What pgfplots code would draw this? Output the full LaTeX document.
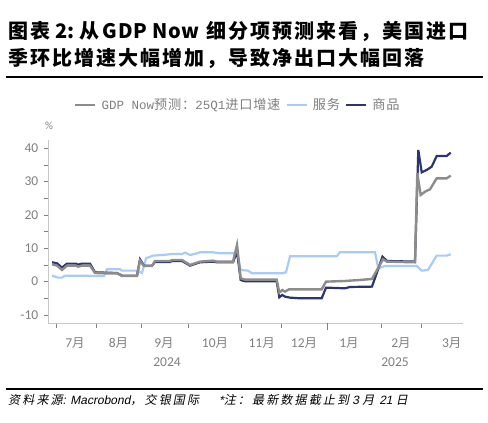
\documentclass[border=0pt]{standalone}
\usepackage{fontspec}
\usepackage{pgfplots}
\usepackage{pgfplotstable}
\pgfplotsset{compat=1.18}
\setmainfont{Carlito}
\newfontfamily\cjk{Noto Sans CJK SC}
\newfontfamily\cjkleg{Noto Sans CJK SC}[LetterSpace=6]
\newfontfamily\cjktitle{Noto Sans CJK SC}[LetterSpace=10]
\newfontfamily\cjktitlelat{Noto Sans CJK SC}[LetterSpace=3]
\newfontfamily\cjkit{Noto Sans CJK SC}[FakeSlant=0.2, LetterSpace=18]
\newfontfamily\lmono{Liberation Mono}
\newfontfamily\srcit{Liberation Sans}[FakeSlant=0.2]
\definecolor{navyc}{HTML}{2E3470}
\definecolor{grayc}{HTML}{8C8C8C}
\definecolor{bluec}{HTML}{A9CBF8}
\definecolor{tickc}{HTML}{7F7F7F}
\definecolor{axc}{HTML}{C8C8C8}

% x = horizontal position on the chart (month boundaries: Jul 56, Aug 96, Sep 141.7, Oct 188.3, Nov 241.7, Dec 281.7, Jan 327.7, Feb 381.7, Mar 421.7)
\pgfplotstableread{
x y
52 5.2
57 4.8
62 3.5
67 4.8
76 4.8
78 4.5
82 4.8
90 4.8
95 2.6
105 2.5
117 2.5
122 1.7
137 1.7
140 6.3
144 4.7
152 4.7
155 6.2
170 6.2
172 6.5
182 6.5
190 5.0
200 6.0
213 6.3
217 6.0
233 6.0
237 11.0
240.7 1.0
245 0.6
276.7 0.6
279.3 -3.3
282.3 -2.5
285 -3.0
289 -2.3
321.7 -2.3
326 0.0
345 0.2
360 0.5
372 0.8
383 6.7
387 6.0
415 5.8
417.3 32.5
420.7 26.0
425 27.0
430 27.7
436.7 31.0
446.7 31.0
450.7 31.8
}\totaldata

\pgfplotstableread{
x y
52 5.8
57 5.5
62 4.2
67 5.4
76 5.4
78 5.1
82 5.4
90 5.4
95 2.8
105 2.7
117 2.6
122 1.8
137 1.8
140 6.7
144 4.8
152 4.8
155 5.9
170 5.9
172 6.2
182 6.2
190 4.8
200 5.8
213 6.0
217 5.8
233 5.8
237 9.0
240.7 0.5
245 0.1
276.7 0.1
279.3 -4.7
282.3 -4.0
285 -4.5
290 -4.8
300 -5.0
321.7 -5.0
326 -1.8
345 -2.0
350 -1.6
372 -1.5
382.5 7.5
387 6.2
415 6.0
418.3 39.5
421.7 32.8
426.7 33.5
431.7 34.5
436.7 37.7
446.7 37.7
450.7 38.7
}\goodsdata

\pgfplotstableread{
x y
52 1.8
58 1.2
62 1.2
65 1.8
104 1.7
107 3.7
120 3.7
122 3.3
137 3.3
142 2.6
146 7.0
153 7.8
163 8.0
172 8.3
182 8.3
185 8.7
190 8.0
197 8.5
200 8.8
213 8.8
220 8.5
233 8.5
237 8.7
240.7 3.5
248 3.3
252 2.5
282 2.5
286 2.8
290 7.6
336.7 7.6
340 8.8
375 8.8
378.3 4.0
385 4.7
416.7 4.7
421.7 3.3
428 3.5
436.7 7.8
446.7 7.8
450.7 8.2
}\servdata

\begin{document}
\begin{tikzpicture}[x=1pt,y=1pt]
\useasboundingbox (0,0) rectangle (488,423);
% title
\node[anchor=base west, inner sep=0pt] at (8,384) {\fontsize{20}{24}\selectfont\bfseries{\cjktitle 图表}\hspace{5pt}{\cjktitlelat 2:}\hspace{5pt}{\cjktitle 从}\hspace{3pt}{\cjktitlelat GDP\hspace{5pt}Now}\hspace{7pt}{\cjktitle 细分项预测来看，美国进口}};
\node[anchor=base west, inner sep=0pt] at (8,357) {\fontsize{20}{24}\selectfont\cjktitle\bfseries 季环比增速大幅增加，导致净出口大幅回落};
\draw[line width=1.6pt] (6,345.7) -- (483,345.7);

\begin{axis}[
  at={(48.3pt,99.7pt)}, anchor=south west,
  width=414.4pt, height=183.3pt, scale only axis,
  xmin=48.3, xmax=462.7, ymin=-12.5, ymax=42.5,
  axis x line*=bottom, axis y line*=left,
  axis line style={draw=axc, line width=0.8pt, -},
  xtick={56,96,141.7,188.3,241.7,281.7,381.7,421.7},
  xticklabels={},
  extra x ticks={327.7}, extra x tick labels={},
  extra x tick style={major tick length=7pt},
  ytick={-10,0,10,20,30,40},
  yticklabels={-10,0,10,20,30,40},
  minor ytick={-5,5,15,25,35},
  tick align=outside,
  major tick length=4.5pt, minor tick length=4.5pt,
  tick style={draw=tickc, line width=0.8pt},
  yticklabel style={font=\fontsize{13.5}{14}\selectfont, text=tickc, xshift=-2pt},
  legend columns=3,
  legend style={at={(0.062,1.191)}, anchor=west, draw=none, fill=none,
    inner xsep=0pt, inner ysep=0pt, column sep=3pt,
    font=\fontsize{12.5}{14}\selectfont, text=tickc},
  legend image code/.code={\draw[#1] (0pt,0pt) -- (20pt,0pt);},
]
\addplot[bluec, line width=2.2pt, forget plot] table[x=x,y=y] {\servdata};
\addplot[navyc, line width=2.2pt, forget plot] table[x=x,y=y] {\goodsdata};
\addplot[grayc, line width=2.4pt, forget plot] table[x=x,y=y] {\totaldata};
\addlegendimage{grayc, line width=2.4pt}
\addlegendentry{{\lmono GDP Now}{\cjkleg\fontsize{13.2}{14}\selectfont 预测：}{\lmono 25Q1}{\cjkleg\fontsize{13.2}{14}\selectfont 进口增速}\hspace{15pt}}
\addlegendimage{bluec, line width=2.4pt}
\addlegendentry{{\cjkleg\fontsize{13.2}{14}\selectfont 服务}\hspace{15pt}}
\addlegendimage{navyc, line width=2.4pt}
\addlegendentry{{\cjkleg\fontsize{13.2}{14}\selectfont 商品}}
\end{axis}

% unit
\node[text=tickc, font=\fontsize{11}{12}\selectfont] at (49,297) {\%};
% month labels
\foreach \xx/\mm in {75/7,118.5/8,164/9,215/10,261.7/11,304/12,349/1,401/2,451.7/3}{
  \node[text=tickc, inner sep=0pt] at (\xx,80) {\fontsize{13.5}{14}\selectfont \mm{\cjk\fontsize{12.5}{14}\selectfont 月}};
}
\node[text=tickc, inner sep=0pt, font=\fontsize{13.5}{14}\selectfont] at (167,61) {2024};
\node[text=tickc, inner sep=0pt, font=\fontsize{13.5}{14}\selectfont] at (395,61) {2025};

% source
\draw[line width=1.4pt] (6,34) -- (483,34);
\node[anchor=base west, inner sep=0pt] at (8,18) {\fontsize{12}{14}\selectfont\cjkit 资料来源\srcit: Macrobond\cjkit，交银国际\hspace{20pt}\srcit *\cjkit 注：最新数据截止到\srcit\ 3 \cjkit 月 \srcit 21 \cjkit 日};
\end{tikzpicture}
\end{document}
